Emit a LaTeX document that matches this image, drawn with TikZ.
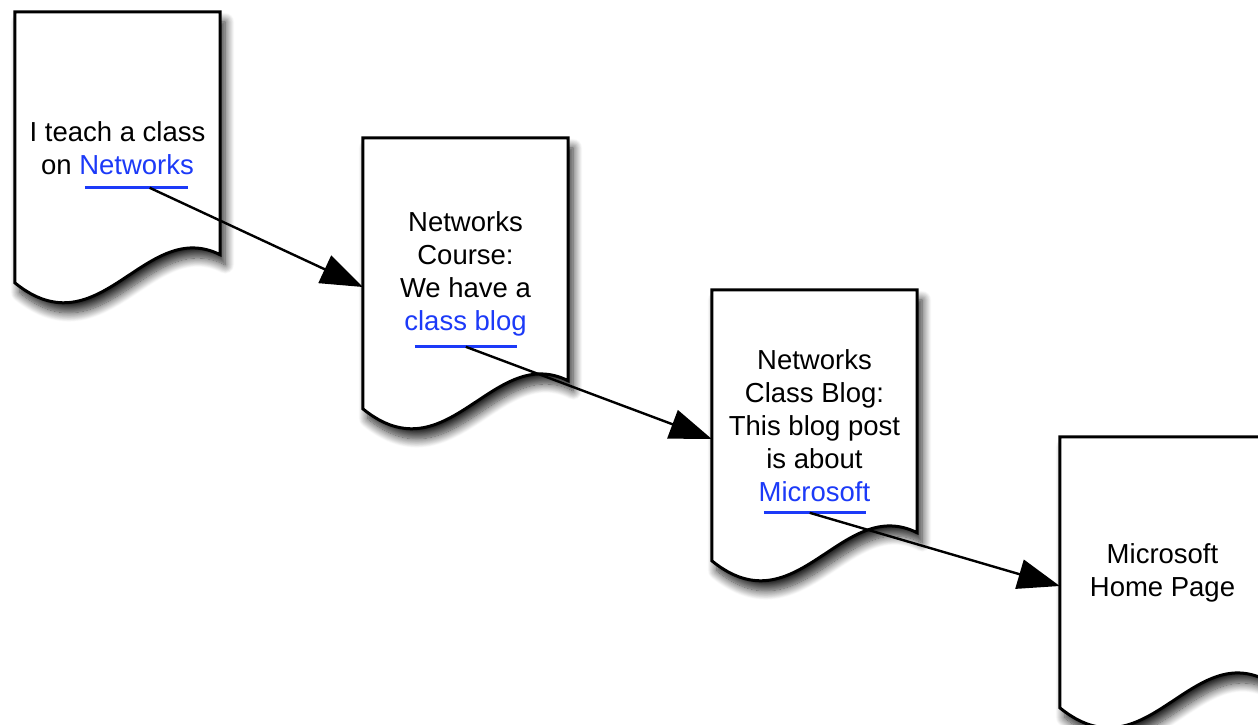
\documentclass[tikz,border=0pt]{standalone}
\usepackage{fontspec}
\setmainfont{Liberation Sans}
\usepackage{xcolor}
\usetikzlibrary{calc,arrows.meta,backgrounds,shadows.blur}
\definecolor{linkblue}{RGB}{28,58,248}

% outline of one page: flat top, wavy bottom
\newcommand\sheetpath[1]{(#1.north west) -- (#1.north east)
  -- ($(#1.north east)+(0,243)$)
  .. controls ($(#1.north west)+(130,205)$) and ($(#1.north west)+(85,340)$) ..
  ($(#1.north west)+(0,271)$) -- cycle}

\begin{document}
\begin{tikzpicture}[
x=1pt, y=-1pt,
page/.style={
	minimum width=205pt, minimum height=272pt,
	inner sep=0pt, align=center, text=black,
	font=\fontsize{27.5}{33}\selectfont
},
sheet/.style={
	draw=black, line width=3pt, fill=white,
	blur shadow={shadow xshift=5pt, shadow yshift=-10pt,
		shadow blur radius=9pt, shadow blur steps=14, shadow opacity=85}
},
link/.style={draw=linkblue, line width=3pt},
jump/.style={line width=2.4pt, -{Triangle[length=42pt,width=30pt]}}
]
\useasboundingbox (0,0) rectangle (1258,725);

\node[page] (d1) at (117.5,148) {I teach a class\\on \textcolor{linkblue}{Networks}};
\node[page] (d2) at (465.5,274) {Networks\\Course:\\We have a\\\textcolor{linkblue}{class blog}};
\node[page] (d3) at (814.5,426) {Networks\\Class Blog:\\This blog post\\is about\\\textcolor{linkblue}{Microsoft}};
\node[page] (d4) at (1162.5,573) {Microsoft\\Home Page};

\begin{scope}[on background layer]
\foreach \d in {d1,d2,d3,d4}
	\draw[sheet] \sheetpath{\d};
\end{scope}

% underlined links
\coordinate (u1a) at ($(d1.north west)+(70,176)$);
\coordinate (u1b) at ($(d1.north west)+(173,176)$);
\coordinate (u2a) at ($(d2.north west)+(52,209)$);
\coordinate (u2b) at ($(d2.north west)+(154,209)$);
\coordinate (u3a) at ($(d3.north west)+(52,223)$);
\coordinate (u3b) at ($(d3.north west)+(154,223)$);
\draw[link] (u1a) -- coordinate[pos=.63] (s1) (u1b);
\draw[link] (u2a) -- coordinate[pos=.5] (s2) (u2b);
\draw[link] (u3a) -- coordinate[pos=.45] (s3) (u3b);

\foreach \i/\j in {1/2,2/3,3/4}
	\draw[jump] (s\i) -- ($(d\j.west)+(0,13)$);
\end{tikzpicture}
\end{document}
